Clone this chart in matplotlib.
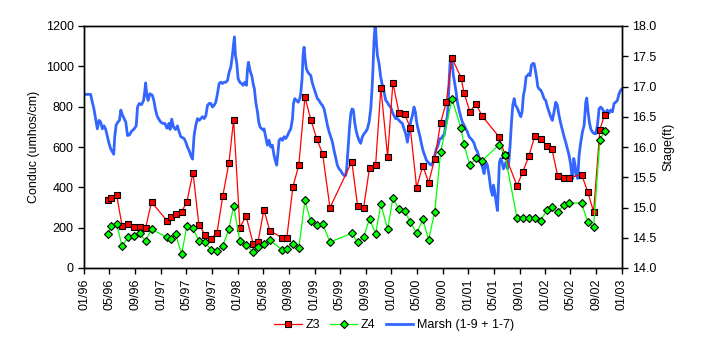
import numpy as np
import matplotlib
matplotlib.use("Agg")
import matplotlib.pyplot as plt
import matplotlib.dates as mdates
from datetime import datetime

plt.rcParams['font.family'] = ['Liberation Sans', 'DejaVu Sans']
plt.rcParams['font.size'] = 9

# ----------------------------
# DATA
# ----------------------------
sample_dates = [
    "1996-04-22", "1996-05-08", "1996-06-04", "1996-06-30", "1996-07-27", "1996-08-24",
    "1996-09-22", "1996-10-20", "1996-11-17",
    "1997-01-29", "1997-02-16", "1997-03-11", "1997-04-09", "1997-05-04", "1997-06-02",
    "1997-06-30", "1997-07-29", "1997-08-26", "1997-09-24", "1997-10-22", "1997-11-20",
    "1997-12-12",
    "1998-01-11", "1998-02-09", "1998-03-15", "1998-04-07", "1998-05-05", "1998-06-02",
    "1998-07-30", "1998-08-22", "1998-09-20", "1998-10-18", "1998-11-16", "1998-12-14",
    "1999-01-11", "1999-02-08", "1999-03-15", "1999-06-27", "1999-07-24", "1999-08-22",
    "1999-09-19", "1999-10-18", "1999-11-12", "1999-12-14",
    "2000-01-08", "2000-02-06", "2000-03-04", "2000-03-31", "2000-04-30", "2000-05-29",
    "2000-06-26", "2000-07-25", "2000-08-22", "2000-09-18", "2000-10-15", "2000-11-27",
    "2000-12-11",
    "2001-01-08", "2001-02-06", "2001-03-06", "2001-05-26", "2001-06-24", "2001-08-20",
    "2001-09-17", "2001-10-16", "2001-11-13", "2001-12-10",
    "2002-01-08", "2002-02-02", "2002-03-01", "2002-03-29", "2002-04-25", "2002-06-23",
    "2002-07-22", "2002-08-19", "2002-09-18", "2002-10-10",
]

z3 = [
    339, 349, 362, 210, 220, 202, 205, 200, 327,
    235, 254, 269, 279, 329, 473, 215, 165, 145, 175, 359, 522, 736,
    200, 259, 121, 129, 289, 185, 150, 150, 403, 511, 848, 736,
    641, 567, 299, 527, 309, 299, 497, 511, 894, 552,
    919, 770, 765, 693, 398, 507, 423, 542, 720, 823, 1041, 944, 869,
    775, 815, 755, 651, 562, 408, 478, 557, 656, 641,
    607, 590, 458, 448, 448, 463, 378, 279, 686, 760,
]

z4 = [
    169, 208, 218, 108, 152, 157, 173, 134, 192,
    152, 142, 169, 68, 208, 197, 134, 129, 89, 83, 111, 193, 307,
    134, 114, 79, 103, 119, 137, 91, 96, 119, 98, 336, 231,
    212, 218, 129, 172, 128, 152, 245, 169, 316, 192,
    347, 291, 284, 227, 172, 241, 140, 279, 574, np.nan, 838, 693, 613,
    509, 544, 531, 610, 560, 248, 249, 246, 246, 235,
    286, 302, 276, 312, 322, 322, 227, 202, 633, 679,
]

# marsh stage: time in years since Jan 1 1996, stage in ft
marsh_t = [
    0.000, 0.086, 0.108, 0.129, 0.151, 0.173, 0.195, 0.217, 0.238, 0.260, 0.282, 0.304,
    0.325, 0.347, 0.369, 0.386, 0.399, 0.417, 0.439, 0.460, 0.478, 0.499, 0.521, 0.543,
    0.565, 0.591, 0.617, 0.652, 0.678, 0.695, 0.717, 0.748, 0.774, 0.791, 0.800, 0.817,
    0.833, 0.854, 0.885, 0.907, 0.928, 0.950, 0.972, 0.998, 1.024, 1.050, 1.077, 1.103,
    1.118, 1.140, 1.162, 1.188, 1.214, 1.223, 1.257, 1.301, 1.323, 1.344, 1.366, 1.388,
    1.410, 1.431, 1.453, 1.475, 1.497, 1.518, 1.540, 1.562, 1.584, 1.606, 1.628, 1.649,
    1.670, 1.692, 1.713, 1.735, 1.757, 1.779, 1.800, 1.822, 1.844, 1.866, 1.888, 1.909,
    1.930, 1.943, 1.956, 1.969, 1.987, 2.004, 2.026, 2.048, 2.069, 2.091, 2.113, 2.126,
    2.138, 2.151, 2.164, 2.182, 2.199, 2.216, 2.234, 2.256, 2.273, 2.290, 2.312, 2.334,
    2.342, 2.363, 2.385, 2.407, 2.429, 2.450, 2.472, 2.494, 2.507, 2.524, 2.538, 2.559,
    2.581, 2.603, 2.625, 2.647, 2.668, 2.690, 2.712, 2.725, 2.742, 2.764, 2.786, 2.807,
    2.819, 2.837, 2.850, 2.863, 2.876, 2.893, 2.911, 2.928, 2.950, 2.972, 2.994, 3.015,
    3.036, 3.058, 3.080, 3.101, 3.123, 3.145, 3.167, 3.189, 3.210, 3.232, 3.254, 3.276,
    3.296, 3.318, 3.340, 3.362, 3.383, 3.405, 3.418, 3.436, 3.453, 3.471, 3.488, 3.505,
    3.522, 3.539, 3.557, 3.578, 3.600, 3.622, 3.644, 3.665, 3.687, 3.709, 3.731, 3.748,
    3.760, 3.773, 3.786, 3.795, 3.804, 3.817, 3.839, 3.860, 3.882, 3.904, 3.926, 3.947,
    3.968, 3.990, 4.012, 4.033, 4.055, 4.077, 4.099, 4.121, 4.142, 4.164, 4.186, 4.208,
    4.228, 4.250, 4.272, 4.294, 4.311, 4.328, 4.346, 4.368, 4.389, 4.411, 4.433, 4.455,
    4.475, 4.497, 4.519, 4.541, 4.562, 4.584, 4.606, 4.628, 4.649, 4.671, 4.684, 4.706,
    4.727, 4.740, 4.753, 4.766, 4.779, 4.792, 4.805, 4.823, 4.840, 4.857, 4.879, 4.901,
    4.922, 4.944, 4.965, 4.987, 5.009, 5.031, 5.052, 5.074, 5.096, 5.118, 5.139, 5.161,
    5.182, 5.204, 5.226, 5.247, 5.269, 5.291, 5.313, 5.326, 5.343, 5.360, 5.378, 5.391,
    5.404, 5.421, 5.439, 5.456, 5.474, 5.491, 5.509, 5.526, 5.543, 5.561, 5.578, 5.596,
    5.612, 5.629, 5.647, 5.664, 5.682, 5.699, 5.716, 5.734, 5.751, 5.769, 5.786, 5.803,
    5.820, 5.837, 5.855, 5.872, 5.890, 5.903, 5.920, 5.942, 5.964, 5.985, 6.007, 6.029,
    6.050, 6.071, 6.093, 6.115, 6.137, 6.158, 6.180, 6.202, 6.224, 6.246, 6.267, 6.289,
    6.311, 6.333, 6.346, 6.359, 6.372, 6.389, 6.407, 6.424, 6.441, 6.463, 6.485, 6.507,
    6.528, 6.541, 6.558, 6.575, 6.593, 6.614, 6.636, 6.658, 6.680, 6.702, 6.723, 6.745,
    6.766, 6.788, 6.809, 6.831, 6.853, 6.875, 6.897, 6.918, 6.940, 6.962, 6.984, 7.000,
]
marsh_stage = [
    16.87, 16.87, 16.74, 16.63, 16.47, 16.30, 16.44, 16.41, 16.30, 16.35, 16.29, 16.17,
    16.06, 15.97, 15.92, 15.88, 16.17, 16.36, 16.41, 16.44, 16.61, 16.53, 16.47, 16.41,
    16.19, 16.20, 16.26, 16.30, 16.35, 16.66, 16.72, 16.70, 16.77, 16.94, 17.06, 16.84,
    16.77, 16.88, 16.86, 16.77, 16.62, 16.51, 16.46, 16.41, 16.39, 16.39, 16.31, 16.39,
    16.29, 16.46, 16.33, 16.29, 16.35, 16.30, 16.17, 16.14, 16.08, 16.00, 15.94, 15.86,
    15.80, 16.19, 16.36, 16.47, 16.44, 16.47, 16.50, 16.47, 16.52, 16.69, 16.72, 16.72,
    16.66, 16.69, 16.74, 16.88, 17.05, 17.07, 17.05, 17.07, 17.07, 17.10, 17.24, 17.32,
    17.52, 17.68, 17.82, 17.52, 17.38, 17.13, 17.07, 17.05, 17.02, 17.07, 17.02, 17.29,
    17.40, 17.32, 17.24, 17.18, 17.05, 16.96, 16.74, 16.58, 16.41, 16.33, 16.30, 16.28,
    16.30, 16.17, 16.03, 16.11, 16.00, 16.03, 15.86, 15.75, 15.70, 15.92, 16.11, 16.14,
    16.11, 16.17, 16.14, 16.19, 16.25, 16.30, 16.47, 16.72, 16.80, 16.77, 16.74, 16.80,
    16.88, 17.13, 17.52, 17.65, 17.46, 17.29, 17.24, 17.21, 17.18, 17.05, 16.96, 16.88,
    16.80, 16.77, 16.72, 16.69, 16.63, 16.50, 16.36, 16.25, 16.17, 16.08, 15.94, 15.81,
    15.70, 15.64, 15.61, 15.56, 15.53, 15.53, 15.64, 15.97, 16.30, 16.55, 16.63, 16.61,
    16.41, 16.28, 16.19, 16.11, 16.06, 16.17, 16.22, 16.25, 16.30, 16.41, 16.63, 16.96,
    17.29, 17.74, 18.00, 17.96, 17.74, 17.52, 17.38, 17.16, 17.02, 16.91, 16.77, 16.74,
    16.69, 16.66, 16.58, 16.52, 16.47, 16.47, 16.44, 16.41, 16.39, 16.30, 16.22, 16.08,
    16.25, 16.41, 16.52, 16.66, 16.58, 16.41, 16.30, 16.19, 16.06, 15.94, 15.86, 15.78,
    15.75, 15.72, 15.70, 15.75, 15.86, 15.97, 16.03, 16.14, 16.14, 16.19, 16.19, 16.36,
    16.52, 16.80, 17.18, 17.46, 17.49, 17.35, 17.18, 17.05, 16.91, 16.74, 16.61, 16.50,
    16.41, 16.36, 16.30, 16.25, 16.17, 16.14, 16.11, 16.06, 15.97, 15.92, 15.83, 15.75,
    15.67, 15.56, 15.75, 15.70, 15.53, 15.31, 15.20, 15.37, 15.26, 15.09, 14.95, 15.37,
    15.75, 15.81, 15.75, 15.64, 15.70, 15.75, 15.64, 15.75, 16.03, 16.41, 16.69, 16.80,
    16.69, 16.66, 16.61, 16.55, 16.50, 16.58, 16.85, 16.96, 17.16, 17.18, 17.21, 17.18,
    17.35, 17.38, 17.38, 17.27, 17.13, 17.00, 16.96, 16.94, 16.88, 16.80, 16.77, 16.66,
    16.58, 16.50, 16.44, 16.58, 16.74, 16.69, 16.52, 16.39, 16.28, 16.17, 16.08, 15.97,
    15.86, 15.70, 15.53, 15.48, 15.81, 15.70, 15.53, 15.48, 15.86, 16.08, 16.25, 16.36,
    16.74, 16.81, 16.58, 16.41, 16.30, 16.25, 16.22, 16.22, 16.36, 16.63, 16.66, 16.63,
    16.58, 16.56, 16.61, 16.56, 16.61, 16.58, 16.72, 16.74, 16.77, 16.88, 16.94, 16.96,
]


def years_to_date(t):
    y = 1996 + t
    year = int(np.floor(y))
    start = datetime(year, 1, 1)
    end = datetime(year + 1, 1, 1)
    return start + (y - year) * (end - start)


dates = [datetime.strptime(d, "%Y-%m-%d") for d in sample_dates]
marsh_dates = [years_to_date(t) for t in marsh_t]

z4_arr = np.array(z4, dtype=float)
ok = ~np.isnan(z4_arr)
z4_dates = [d for d, k in zip(dates, ok) if k]

# ----------------------------
# PLOT
# ----------------------------
fig = plt.figure(figsize=(7.05, 3.51), dpi=100)
ax = fig.add_axes([84 / 705, 1 - 268 / 351, 538 / 705, 242 / 351])
ax2 = ax.twinx()

line_m, = ax2.plot(marsh_dates, marsh_stage, color='#3366FF', lw=2.0,
                   label='Marsh (1-9 + 1-7)')
line_z3, = ax.plot(dates, z3, color='#FF0000', lw=0.9, marker='s', ms=4.2,
                   mfc='#FF0000', mec='black', mew=0.8, label='Z3')
line_z4, = ax.plot(z4_dates, z4_arr[ok], color='#00FF00', lw=0.9, marker='D', ms=3.8,
                   mfc='#00FF00', mec='black', mew=0.8, label='Z4')

ax.set_zorder(ax2.get_zorder() + 1)
ax.patch.set_visible(False)

ax.set_xlim(datetime(1996, 1, 1), datetime(2003, 1, 1))
ax.set_ylim(0, 1200)
ax.set_yticks(np.arange(0, 1201, 200))
ax2.set_ylim(14, 18)
ax2.set_yticks(np.arange(14, 18.01, 0.5))
ax2.yaxis.set_major_formatter(plt.FormatStrFormatter('%.1f'))

ax.xaxis.set_major_locator(mdates.MonthLocator(bymonth=[1, 5, 9]))
ax.xaxis.set_major_formatter(mdates.DateFormatter('%m/%y'))
plt.setp(ax.get_xticklabels(), rotation=90)

for a in (ax, ax2):
    a.tick_params(direction='out', length=4, width=1, colors='black', labelsize=9)
    for s in a.spines.values():
        s.set_linewidth(1.0)

ax.set_ylabel('Conduc (umhos/cm)', fontsize=9)
ax2.set_ylabel('Stage(ft)', fontsize=9)

fig.legend(handles=[line_z3, line_z4, line_m], loc='center',
           bbox_to_anchor=(394 / 705, 1 - 325 / 351), ncol=3, frameon=False,
           fontsize=9, handlelength=2.2, columnspacing=0.8, handletextpad=0.3)

fig.savefig('out.png', dpi=100)
